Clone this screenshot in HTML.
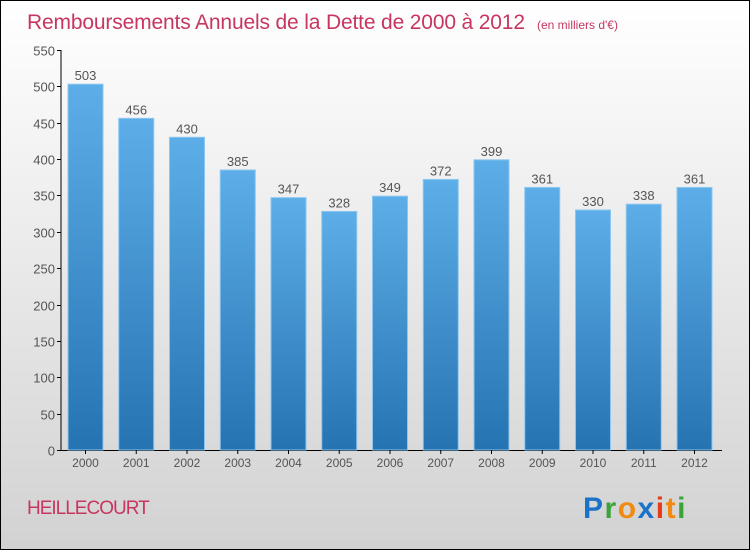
<!DOCTYPE html>
<html><head><meta charset="utf-8"><style>
body{margin:0}
#c{width:748px;height:548px;border:1px solid #000;background:linear-gradient(#ffffff,#d2d2d2);position:relative;font-family:"Liberation Sans",sans-serif;overflow:hidden}
</style></head><body>
<div id="c">
<svg width="748" height="548" style="position:absolute;left:0;top:0" id="svg">
<defs><linearGradient id="bg" x1="0" y1="0" x2="0" y2="1"><stop offset="0" stop-color="#5daee8"/><stop offset="1" stop-color="#2673b2"/></linearGradient></defs>
<text x="26" y="28" font-size="21" fill="#c8365f" textLength="498">Remboursements Annuels de la Dette de 2000 à 2012</text>
<text x="536" y="28" font-size="12" fill="#c8365f">(en milliers d'€)</text>
<text x="26" y="513" font-size="19" fill="#c8365f" letter-spacing="-1">HEILLECOURT</text>
<g font-size="30" font-weight="bold" font-family="'Liberation Sans',sans-serif">
<text x="582" y="517" letter-spacing="1.5"><tspan fill="#1a73c9">P</tspan><tspan fill="#3aa33a">r</tspan><tspan fill="#f08a10">o</tspan><tspan fill="#1a73c9">x</tspan><tspan fill="#e83a1a">i</tspan><tspan fill="#f08a10">t</tspan><tspan fill="#3aa33a">i</tspan></text></g>
<g id="plot"></g>
</svg>
</div>
<script>
const years=["2000","2001","2002","2003","2004","2005","2006","2007","2008","2009","2010","2011","2012"];
const values=[503,456,430,385,347,328,349,372,399,361,330,338,361];
const ticks=[0,50,100,150,200,250,300,350,400,450,500,550];
const NS="http://www.w3.org/2000/svg";
const g=document.getElementById('plot');
const y0=449,yTop=49,maxV=550;
const yS=v=>y0-(v/maxV)*(y0-yTop);
const xS=i=>67+i*50.75;
const bw=35;
function mk(t,a){const e=document.createElementNS(NS,t);for(const k in a)e.setAttribute(k,a[k]);g.appendChild(e);return e;}
const ax=mk('line',{x1:60,y1:yTop,x2:60,y2:y0+1,stroke:'#000'});


const xa=mk('line',{x1:60,y1:y0+0.5,x2:721,y2:y0+0.5,stroke:'#000'});


ticks.forEach(t=>{const y=Math.round(yS(t))+0.5;
mk('line',{x1:56,y1:y,x2:60,y2:y,stroke:'#000'});
const tx=mk('text',{x:54,y:y+5,'text-anchor':'end','font-size':13,fill:'#555'});tx.textContent=t;

});
values.forEach((v,i)=>{const x=xS(i),y=yS(v);
const r=mk('rect',{x:x,y:y,width:bw,height:y0-y,fill:'url(#bg)',stroke:'#8cc6f0','stroke-width':1});


const l=mk('text',{x:x+bw/2,y:y-4,'text-anchor':'middle','font-size':13,fill:'#555'});l.textContent=v;


mk('line',{x1:x+bw/2,y1:y0,x2:x+bw/2,y2:y0+4,stroke:'#000'});
const xl=mk('text',{x:x+bw/2,y:y0+17,'text-anchor':'middle','font-size':12,fill:'#555'});xl.textContent=years[i];

});
</script>
</body></html>
